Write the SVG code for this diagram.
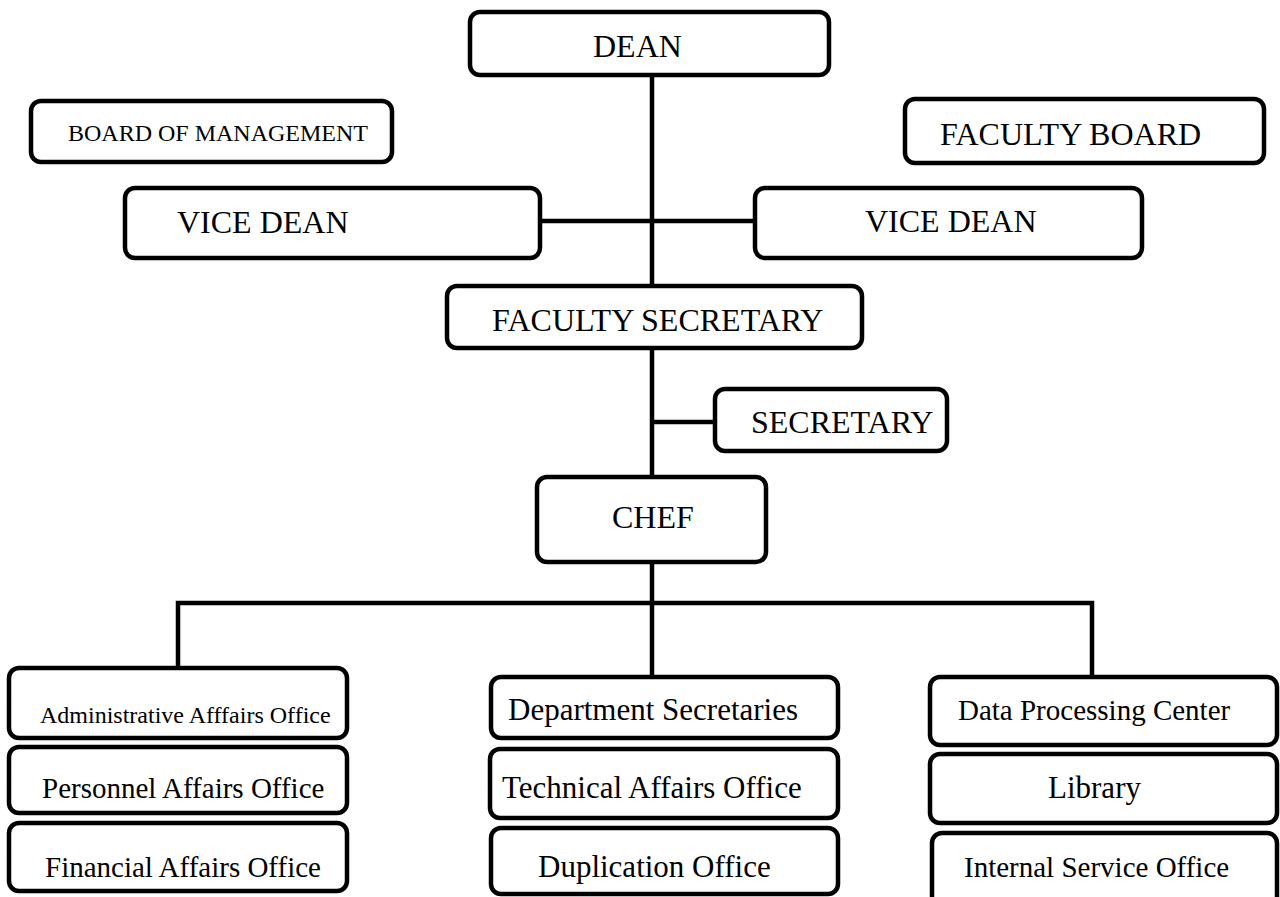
<svg xmlns="http://www.w3.org/2000/svg" width="1280" height="897" viewBox="0 0 1280 897">
<style>
.box{fill:#fff;stroke:#000;stroke-width:4.5}
.ln{stroke:#000;stroke-width:4.5;fill:none}
text{font-family:"Liberation Serif","Times New Roman",serif;fill:#000;font-variant-ligatures:none}
</style>
<rect width="1280" height="897" fill="#fff"/>
<g id="connectors">
<line class="ln" x1="652" y1="75" x2="652" y2="286"/>
<line class="ln" x1="652" y1="348" x2="652" y2="477"/>
<line class="ln" x1="652" y1="562" x2="652" y2="677"/>
<line class="ln" x1="540" y1="221" x2="755" y2="221"/>
<line class="ln" x1="652" y1="422" x2="715" y2="422"/>
<polyline class="ln" points="178,668 178,603 1092,603 1092,677"/>
</g>
<g id="dean"><rect class="box" x="470" y="12" width="359" height="63" rx="10"/><text x="593" y="57" font-size="32">DEAN</text></g>
<g id="board"><rect class="box" x="31" y="101" width="361" height="61" rx="10"/><text x="68" y="141" font-size="24">BOARD OF MANAGEMENT</text></g>
<g id="faculty-board"><rect class="box" x="905" y="99" width="359" height="64" rx="10"/><text x="940" y="145" font-size="32">FACULTY BOARD</text></g>
<g id="vice-dean-left"><rect class="box" x="125" y="188" width="415" height="70" rx="10"/><text x="177" y="233" font-size="32">VICE DEAN</text></g>
<g id="vice-dean-right"><rect class="box" x="755" y="188" width="387" height="70" rx="10"/><text x="865" y="232" font-size="32">VICE DEAN</text></g>
<g id="faculty-secretary"><rect class="box" x="447" y="286" width="415" height="62" rx="10"/><text x="492" y="331" font-size="32">FACULTY SECRETARY</text></g>
<g id="secretary"><rect class="box" x="715" y="389" width="232" height="62" rx="10"/><text x="751" y="433" font-size="32">SECRETARY</text></g>
<g id="chef"><rect class="box" x="537" y="477" width="229" height="85" rx="10"/><text x="612" y="528" font-size="32">CHEF</text></g>
<g id="admin"><rect class="box" x="9" y="668" width="338" height="70" rx="10"/><text x="40" y="723" font-size="24">Administrative Afffairs Office</text></g>
<g id="personnel"><rect class="box" x="9" y="747" width="338" height="66" rx="10"/><text x="42" y="798" font-size="29">Personnel Affairs Office</text></g>
<g id="financial"><rect class="box" x="9" y="823" width="338" height="68" rx="10"/><text x="45" y="877" font-size="29">Financial Affairs Office</text></g>
<g id="dept-secretaries"><rect class="box" x="491" y="677" width="347" height="61" rx="10"/><text x="508" y="720" font-size="31">Department Secretaries</text></g>
<g id="technical"><rect class="box" x="490" y="749" width="348" height="69" rx="10"/><text x="502" y="798" font-size="31">Technical Affairs Office</text></g>
<g id="duplication"><rect class="box" x="491" y="828" width="347" height="66" rx="10"/><text x="538" y="877" font-size="31">Duplication Office</text></g>
<g id="data-processing"><rect class="box" x="930" y="677" width="347" height="68" rx="10"/><text x="958" y="720" font-size="29">Data Processing Center</text></g>
<g id="library"><rect class="box" x="930" y="754" width="347" height="69" rx="10"/><text x="1048" y="798" font-size="31">Library</text></g>
<g id="internal-service"><rect class="box" x="932" y="833" width="345" height="80" rx="10"/><text x="964" y="877" font-size="29">Internal Service Office</text></g>
</svg>
